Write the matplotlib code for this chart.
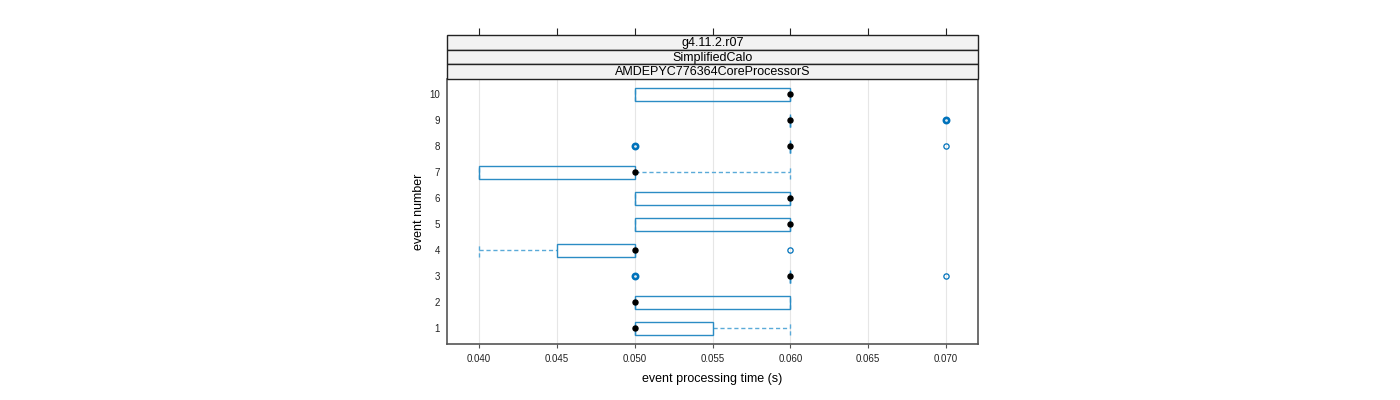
import matplotlib
matplotlib.use('Agg')
import matplotlib.pyplot as plt
from matplotlib.patches import Rectangle

plt.rcParams['font.family'] = ['Liberation Sans', 'DejaVu Sans']

# box statistics per event (seconds)
events = [1, 2, 3, 4, 5, 6, 7, 8, 9, 10]
whisk_lo = [0.050, 0.050, 0.060, 0.040, 0.050, 0.050, 0.040, 0.060, 0.060, 0.050]
q1 = [0.050, 0.050, 0.060, 0.045, 0.050, 0.050, 0.040, 0.060, 0.060, 0.050]
median = [0.050, 0.050, 0.060, 0.050, 0.060, 0.060, 0.050, 0.060, 0.060, 0.060]
q3 = [0.055, 0.060, 0.060, 0.050, 0.060, 0.060, 0.050, 0.060, 0.060, 0.060]
whisk_hi = [0.060, 0.060, 0.060, 0.050, 0.060, 0.060, 0.060, 0.060, 0.060, 0.060]
# outliers: (event, value, how many overplotted)
out_event = [3, 3, 4, 8, 8, 9]
out_value = [0.050, 0.070, 0.060, 0.050, 0.070, 0.070]
out_count = [3, 1, 1, 3, 1, 3]

strips = ['g4.11.2.r07', 'SimplifiedCalo', 'AMDEPYC776364CoreProcessorS']
xticks = [0.040, 0.045, 0.050, 0.055, 0.060, 0.065, 0.070]
xlim = (0.03794, 0.07206)

box_col = '#2b8cc4'
whisk_col = '#5aaad8'
out_col = '#0072bb'
frame_col = '#555555'

fig = plt.figure(figsize=(14, 4), dpi=100)
ax = fig.add_axes([447 / 1400, 1 - 344 / 400, 531 / 1400, 265 / 400])

for x in xticks:
    ax.axvline(x, color='#e6e6e6', lw=0.8, zorder=0)

h = 0.5
for i, ev in enumerate(events):
    # whiskers
    if whisk_lo[i] < q1[i]:
        ax.plot([whisk_lo[i], q1[i]], [ev, ev], color=whisk_col, lw=1, ls=(0, (3, 2)), zorder=2)
    if whisk_hi[i] > q3[i]:
        ax.plot([q3[i], whisk_hi[i]], [ev, ev], color=whisk_col, lw=1, ls=(0, (3, 2)), zorder=2)
    for w in (whisk_lo[i], whisk_hi[i]):
        ax.plot([w, w], [ev - h / 2, ev + h / 2], color=whisk_col, lw=1, ls=(0, (3, 2)), zorder=2)
    ax.add_patch(Rectangle((q1[i], ev - h / 2), q3[i] - q1[i], h, fill=False,
                           edgecolor=box_col, lw=1, zorder=3))
    ax.plot(median[i], ev, 'o', color='black', ms=3.6, zorder=5)

for ev, v, n in zip(out_event, out_value, out_count):
    ax.plot(v, ev, 'o', mfc='none', mec=out_col, ms=3.8, mew=0.9 + 0.5 * (n - 1), zorder=4)

ax.set_xlim(xlim)
ax.set_ylim(0.385, 10.58)
ax.set_xticks(xticks)
ax.set_xticklabels(['%.3f' % x for x in xticks], fontsize=7)
ax.set_yticks(events)
ax.set_yticklabels([str(e) for e in events], fontsize=7)
ax.tick_params(axis='x', length=3, color=frame_col, pad=4, labelcolor='#222222')
ax.tick_params(axis='y', length=0, pad=5, labelcolor='#222222')
for s in ax.spines.values():
    s.set_color(frame_col)
    s.set_linewidth(1.2)
ax.spines['top'].set_visible(False)
ax.set_xlabel('event processing time (s)', fontsize=9, labelpad=7)
ax.set_ylabel('event number', fontsize=9, labelpad=3)

# strips
sax = fig.add_axes([447 / 1400, 1 - 79 / 400, 531 / 1400, 44 / 400])
sax.set_xlim(xlim)
sax.set_ylim(0, 3)
for k, label in enumerate(strips):
    y0 = 2 - k
    sax.add_patch(Rectangle((xlim[0], y0), xlim[1] - xlim[0], 1, facecolor='#f2f2f2',
                            edgecolor='#222222', lw=1, clip_on=False))
    sax.text(sum(xlim) / 2, y0 + 0.45, label, ha='center', va='center', fontsize=9)
sax.set_xticks(xticks)
sax.set_yticks([])
sax.xaxis.tick_top()
sax.tick_params(axis='x', length=5, color='#222222', labeltop=False)
for s in sax.spines.values():
    s.set_visible(False)

fig.savefig('out.png', dpi=100)
